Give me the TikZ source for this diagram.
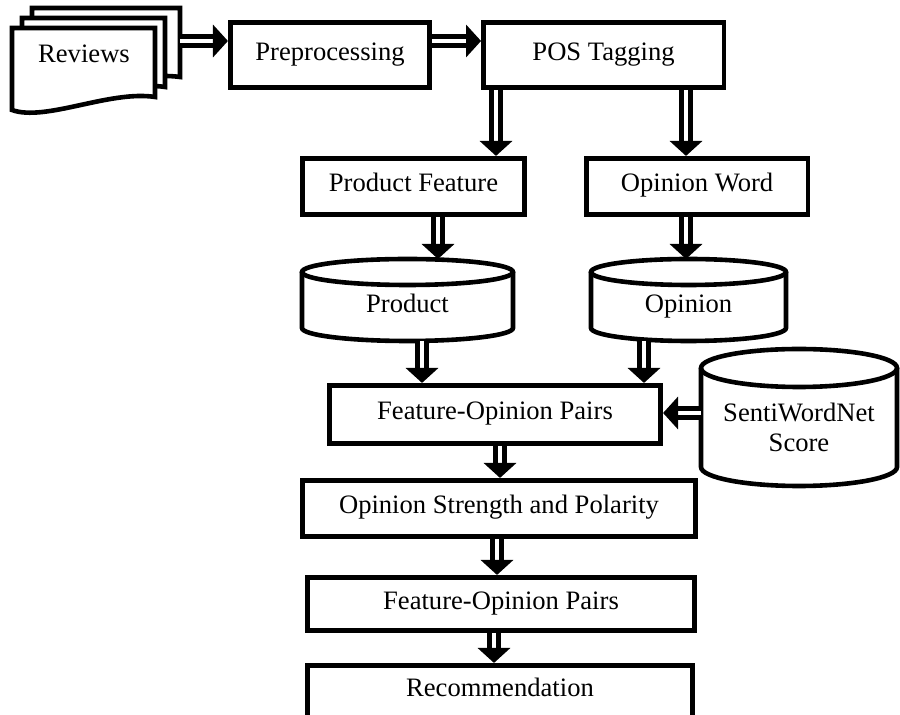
\documentclass[tikz,border=0pt]{standalone}
\usepackage{fontspec}
\setmainfont{Liberation Serif}
\usetikzlibrary{arrows.meta,calc,positioning}

% database drum round a node: name, x radius, y radius
\newcommand{\drumdb}[3]{%
  \draw[dbline] ($(#1.north west)+(0,#3)$) -- ($(#1.south west)+(0,-#3)$)
    arc[start angle=180, end angle=0, x radius=#2, y radius=#3]
    -- ($(#1.north east)+(0,#3)$);
  \draw[dbline] ($(#1.north)+(0,#3)$) ellipse[x radius=#2, y radius=#3];
}

\begin{document}
\begin{tikzpicture}[x=0.5pt, y=-0.5pt,
    font=\fontsize{13.3}{15}\selectfont,
    box/.style={draw, line width=2.3pt, minimum width=#1, minimum height=28.25pt,
      inner sep=2pt, text height=0.7em, text depth=0.15em},
    dbnode/.style={minimum width=#1, outer sep=0pt, inner sep=0pt},
    dbline/.style={line width=2.3pt},
    page/.style={line width=2.3pt, fill=white},
    flow/.style={draw, line width=2.4pt, double=white, double distance=2.2pt,
      -{Triangle[length=7.5pt,width=16pt]}}]
    \useasboundingbox (0,0) rectangle (900,715);

    % stack of reviews
    \foreach \dx/\dy/\w in {20/-20/148, 10/-10/143, 0/0/143}
        \draw[page, shift={(\dx,\dy)}] (12,28) -- ({12+\w},28) -- ({12+\w},97)
            .. controls (110,90) and (45,122) .. (12,110) -- cycle;
    \node (rev) at (84,54) {Reviews};
    \coordinate (rev_r) at (180,41);

    \node[box=99.75pt, minimum height=32.75pt] (pre) at (330,55) {Preprocessing};
    \node[box=120.25pt, minimum height=32.75pt, right=24.5pt of pre] (pos) {POS Tagging};
    \node[box=111.25pt] (pf) at (413.5,186.5) {Product Feature};
    \node[box=110.75pt, right=28.5pt of pf] (ow) {Opinion Word};

    \node[dbnode=105.5pt, minimum height=41pt,
        label={[yshift=-3.3pt, text height=0.7em, text depth=0.15em]center:Product}] (prod) at (407.5,300) {};
    \node[dbnode=97.5pt, minimum height=41pt,
        label={[yshift=-3.3pt, text height=0.7em, text depth=0.15em]center:Opinion}] (opn) at (688.5,300) {};
    \node[dbnode=98pt, minimum height=68.5pt,
        label={[yshift=-4.75pt, align=center]center:SentiWordNet\\Score}] (swn) at (799,417.5) {};
    \drumdb{prod}{105.5}{13}
    \drumdb{opn}{97.5}{13}
    \drumdb{swn}{98}{19}

    \node[box=165.75pt, minimum height=29.25pt] (fop) at (495,414.5) {Feature-Opinion Pairs};
    \node[box=196.75pt] (osp) at (499,508.5) {Opinion Strength and Polarity};
    \node[box=193.75pt, minimum height=26.75pt] (fop_2) at (501,604) {Feature-Opinion Pairs};
    \node[box=192.75pt, minimum height=26.25pt] (rec) at (500,691.5) {Recommendation};

    % columns of the arrows
    \coordinate (c_1) at (496,0);
    \coordinate (c_2) at (686,0);
    \coordinate (c_3) at (438,0);
    \coordinate (c_4) at (422,0);
    \coordinate (c_5) at (644,0);
    \coordinate (c_6) at (500,0);
    \coordinate (c_7) at (497,0);
    \coordinate (c_8) at (494,0);
    \coordinate (r_1) at (0,413);

    \draw[flow] (rev_r) -- (pre.west |- rev_r);
    \draw[flow] (pre.east |- rev_r) -- (pos.west |- rev_r);
    \draw[flow] (pos.south -| c_1) -- (pf.north -| c_1);
    \draw[flow] (pos.south -| c_2) -- (ow.north -| c_2);
    \draw[flow] (pf.south -| c_3) -- (prod.north -| c_3);
    \draw[flow] (ow.south -| c_2) -- (opn.north -| c_2);
    \draw[flow] (prod.south -| c_4) -- (fop.north -| c_4);
    \draw[flow] (opn.south -| c_5) -- (fop.north -| c_5);
    \draw[flow] (swn.west |- r_1) -- (fop.east |- r_1);
    \draw[flow] (fop.south -| c_6) -- (osp.north -| c_6);
    \draw[flow] (osp.south -| c_7) -- (fop_2.north -| c_7);
    \draw[flow] (fop_2.south -| c_8) -- (rec.north -| c_8);
\end{tikzpicture}
\end{document}
